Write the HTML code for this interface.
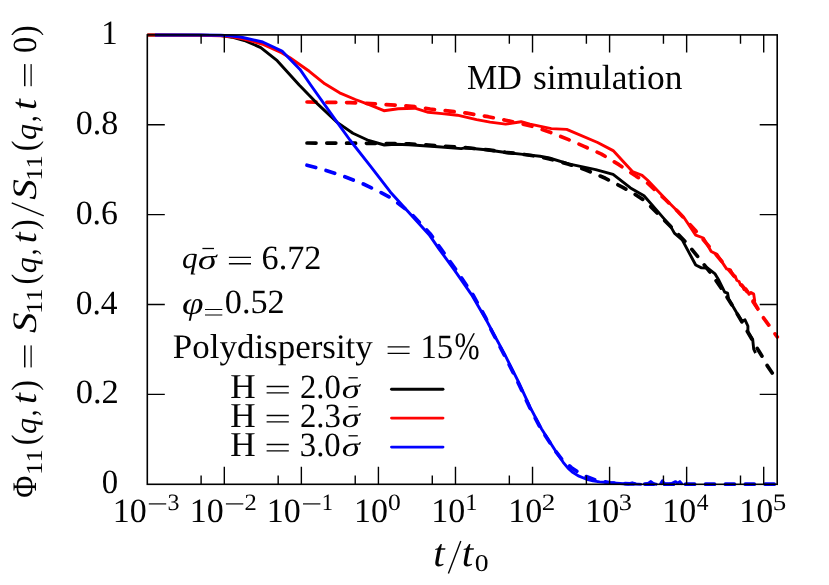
<!DOCTYPE html>
<html><head><meta charset="utf-8"><title>MD simulation</title>
<style>
html,body{margin:0;padding:0;background:#fff;}
body{width:829px;height:585px;overflow:hidden;}
svg{display:block;}
text{font-family:'Liberation Serif',serif;fill:#000;text-rendering:geometricPrecision;}
.i{font-style:italic;}
</style></head><body>
<svg width="829" height="585" viewBox="0 0 829 585">
<rect width="829" height="585" fill="#fff"/>
<!-- fitted (dashed) curves -->
<polyline points="307.0,102.0 350.0,102.6 383.9,104.4 400.0,105.4 414.8,106.7 430.2,109.0 447.6,110.9 467.0,113.2 488.2,116.7 505.6,120.2 523.0,124.1 534.6,127.0 549.3,131.9 568.6,139.6 584.1,146.4 601.5,154.1 618.9,164.7 636.3,176.3 647.4,183.0 665.3,199.5 678.3,211.9 695.7,230.8 720.8,260.2 734.3,276.2 749.8,295.0 762.4,316.3 770.1,326.9 777.3,337.0" fill="none" stroke="#f00" stroke-width="3.7" stroke-dasharray="9 10.8" stroke-linecap="round" stroke-linejoin="round"/>
<polyline points="307.0,143.0 360.0,143.2 384.0,143.5 409.0,143.9 438.0,145.7 465.0,147.6 488.2,149.8 505.6,152.3 523.0,154.3 534.6,156.0 549.3,158.9 568.6,164.2 586.0,170.0 605.4,178.3 622.8,187.3 633.9,193.6 643.5,199.8 651.3,207.1 670.6,226.4 686.0,242.4 697.6,256.4 711.2,273.8 722.8,290.2 735.0,310.0 746.0,329.0 757.6,349.0 763.4,358.5 767.2,365.6 775.0,377.0" fill="none" stroke="#000" stroke-width="3.7" stroke-dasharray="9 10.8" stroke-linecap="round" stroke-linejoin="round"/>
<polyline points="307.0,165.2 324.8,170.0 342.2,175.7 363.4,184.0 378.9,191.4 390.5,197.6 400.0,204.8 410.8,213.2 430.1,233.7 440.6,248.3 455.8,269.6 472.9,294.7 485.9,318.2 491.2,330.0 504.4,355.1 517.9,382.2 529.6,407.3 541.0,429.0 554.6,450.0 562.0,459.5 571.5,467.7 578.3,472.3 586.0,476.5 595.7,480.2 610.0,482.8 630.0,483.9 660.0,484.2 676.0,484.2" fill="none" stroke="#00f" stroke-width="3.7" stroke-dasharray="9 10.8" stroke-linecap="round" stroke-linejoin="round"/>
<path d="M685.6 484.2H694.6 M705.5 484.2H714.5 M725.4 484.2H734.4 M745.3 484.2H754.3 M765.2 484.2H774.2" fill="none" stroke="#00f" stroke-width="3.7" stroke-linecap="round"/>
<!-- simulation (solid) curves -->
<polyline points="147.3,35.0 200.0,35.1 221.0,35.6 232.0,37.2 244.3,40.5 260.8,47.6 277.2,60.7 299.2,85.0 316.7,103.1 337.2,122.4 352.9,133.3 368.6,140.5 384.3,145.0 395.0,144.3 409.0,144.7 438.0,146.7 461.2,148.6 465.0,147.8 488.2,150.0 505.6,152.5 523.0,154.4 540.0,156.3 549.3,158.0 568.6,163.8 595.7,169.6 613.1,174.4 630.5,187.9 644.0,195.7 659.0,212.9 670.6,226.4 674.4,233.1 682.2,239.9 695.7,265.0 701.5,267.9 707.4,268.0 715.1,273.9 719.0,280.6 724.7,292.2 727.6,293.2 728.6,299.0 738.3,315.4 742.1,321.2 745.0,319.8 747.9,326.0 747.9,331.8 752.7,339.5 753.7,349.2 755.6,353.0" fill="none" stroke="#000" stroke-width="2.9" stroke-linejoin="round" stroke-linecap="butt"/>
<polyline points="147.3,35.0 200.0,35.2 221.0,35.8 232.0,36.8 244.0,39.0 262.0,44.0 282.0,53.0 290.0,57.7 309.3,71.3 324.8,83.8 339.6,92.8 355.3,99.5 369.8,104.9 383.9,110.7 398.2,108.8 414.8,108.2 428.3,112.3 442.0,113.6 457.3,115.2 476.6,119.6 490.1,122.1 505.6,124.1 521.1,121.7 530.0,124.2 551.3,128.6 566.7,129.4 597.6,142.5 613.1,150.6 632.4,171.5 642.1,175.4 647.4,180.0 668.6,202.2 684.1,217.7 695.7,235.1 703.4,238.0 711.2,251.5 717.0,254.4 726.6,268.9 730.5,269.9 733.5,275.8 735.2,276.2 736.8,280.2 739.0,281.4 740.5,285.0 742.6,286.0 744.0,289.4 746.0,288.8 747.9,291.6 748.9,294.3 751.0,292.4 753.7,294.1 754.7,300.9 752.7,301.9 756.6,307.6 758.5,310.5" fill="none" stroke="#f00" stroke-width="2.9" stroke-linejoin="round" stroke-linecap="butt"/>
<polyline points="155.0,35.0 200.0,35.0 221.0,35.3 232.0,36.0 240.5,37.0 262.7,42.0 282.0,51.1 300.0,69.4 310.7,85.0 337.2,122.4 349.9,140.0 371.2,167.1 390.5,192.2 409.8,213.4 429.1,234.7 439.3,249.3 454.8,270.6 472.2,295.7 485.7,318.9 491.6,330.0 505.1,355.1 518.6,382.2 530.2,407.3 541.6,429.0 555.1,450.2 563.2,462.3 568.0,468.2 573.0,472.6 579.0,476.2 586.0,479.0 593.0,480.9 599.6,481.9 609.5,482.8 620.0,483.5 628.0,484.0 632.2,482.8 636.0,484.0 641.7,484.4" fill="none" stroke="#00f" stroke-width="2.9" stroke-linejoin="round" stroke-linecap="butt"/>
<polyline points="644.5,484.4 648.0,483.4 650.9,481.6 653.5,483.7 657.3,484.4" fill="none" stroke="#00f" stroke-width="2.9" stroke-linejoin="round" stroke-linecap="butt"/>
<polyline points="660.2,484.4 662.4,480.8 664.5,483.9 668.0,484.3 672.0,483.3 675.6,481.6 677.5,483.3 679.9,481.6 682.3,484.4" fill="none" stroke="#00f" stroke-width="2.9" stroke-linejoin="round" stroke-linecap="butt"/>
<!-- axes -->
<path d="M201.11 484.30v-8.8 M201.11 34.90v8.8 M224.31 484.30v-17.5 M224.31 34.90v17.5 M278.17 484.30v-8.8 M278.17 34.90v8.8 M301.36 484.30v-17.5 M301.36 34.90v17.5 M355.22 484.30v-8.8 M355.22 34.90v8.8 M378.42 484.30v-17.5 M378.42 34.90v17.5 M432.28 484.30v-8.8 M432.28 34.90v8.8 M455.48 484.30v-17.5 M455.48 34.90v17.5 M509.34 484.30v-8.8 M509.34 34.90v8.8 M532.53 484.30v-17.5 M532.53 34.90v17.5 M586.39 484.30v-8.8 M586.39 34.90v8.8 M609.59 484.30v-17.5 M609.59 34.90v17.5 M663.45 484.30v-8.8 M663.45 34.90v8.8 M686.64 484.30v-17.5 M686.64 34.90v17.5 M740.50 484.30v-8.8 M740.50 34.90v8.8 M763.70 484.30v-17.5 M763.70 34.90v17.5 M147.30 394.42h17.5 M777.20 394.42h-17.5 M147.30 304.54h17.5 M777.20 304.54h-17.5 M147.30 214.66h17.5 M777.20 214.66h-17.5 M147.30 124.78h17.5 M777.20 124.78h-17.5" fill="none" stroke="#000" stroke-width="1.4"/>
<rect x="147.30" y="34.90" width="629.90" height="449.40" fill="none" stroke="#000" stroke-width="1.6"/>
<g opacity="0.99">
<!-- y tick labels -->
<text transform="translate(101.15 43.90) scale(0.9656 1.0000)" font-size="34">1</text>
<text transform="translate(75.65 133.78) scale(1.0023 1.0000)" font-size="34">0.8</text>
<text transform="translate(75.66 223.66) scale(0.9967 1.0000)" font-size="34">0.6</text>
<text transform="translate(75.67 313.54) scale(0.9856 1.0000)" font-size="34">0.4</text>
<text transform="translate(75.63 403.42) scale(1.0167 1.0000)" font-size="34">0.2</text>
<text transform="translate(101.80 493.30) scale(0.9651 1.0000)" font-size="34">0</text>
<!-- x tick labels -->
<text transform="translate(112.70 522.10) scale(0.9998 1.0000)" font-size="34">10</text>
<path d="M148.8 503.90H166.2" stroke="#000" stroke-width="1.20" fill="none"/>
<text transform="translate(167.43 509.80) scale(1.0192 1.0000)" font-size="23.5">3</text>
<text transform="translate(189.76 522.10) scale(0.9998 1.0000)" font-size="34">10</text>
<path d="M225.9 503.90H243.3" stroke="#000" stroke-width="1.20" fill="none"/>
<text transform="translate(244.54 509.80) scale(1.0445 1.0000)" font-size="23.5">2</text>
<text transform="translate(266.82 522.10) scale(0.9998 1.0000)" font-size="34">10</text>
<path d="M303.0 503.90H320.4" stroke="#000" stroke-width="1.20" fill="none"/>
<text transform="translate(321.70 509.80) scale(0.9635 1.0000)" font-size="23.5">1</text>
<text transform="translate(354.07 522.10) scale(0.9998 1.0000)" font-size="34">10</text>
<text transform="translate(387.98 509.80) scale(1.0871 1.0000)" font-size="23.5">0</text>
<text transform="translate(431.13 522.10) scale(0.9998 1.0000)" font-size="34">10</text>
<text transform="translate(465.24 509.80) scale(1.0478 1.0000)" font-size="23.5">1</text>
<text transform="translate(508.19 522.10) scale(0.9998 1.0000)" font-size="34">10</text>
<text transform="translate(541.86 509.80) scale(1.1500 1.0000)" font-size="23.5">2</text>
<text transform="translate(585.24 522.10) scale(0.9998 1.0000)" font-size="34">10</text>
<text transform="translate(618.86 509.80) scale(1.1222 1.0000)" font-size="23.5">3</text>
<text transform="translate(662.30 522.10) scale(0.9998 1.0000)" font-size="34">10</text>
<text transform="translate(696.67 509.80) scale(1.0011 1.0000)" font-size="23.5">4</text>
<text transform="translate(739.35 522.10) scale(0.9998 1.0000)" font-size="34">10</text>
<text transform="translate(772.67 509.80) scale(1.1500 1.0000)" font-size="23.5">5</text>
<!-- x label -->
<text transform="translate(433.32 566.10) scale(1.1404 1.0799)" font-size="36" class="i">t</text>
<path d="M448.4 573.5L460.8 540.9" stroke="#000" stroke-width="1.4" fill="none"/>
<text transform="translate(461.82 566.10) scale(1.1404 1.0799)" font-size="36" class="i">t</text>
<text transform="translate(474.69 570.90) scale(1.1769 1.0277)" font-size="23.5">0</text>
<!-- title -->
<text transform="translate(467.08 88.80) scale(0.9719 1.0000)" font-size="35">MD</text>
<text transform="translate(532.98 88.80) scale(1.0113 1.0000)" font-size="35">simulation</text>
<!-- annotations -->
<text transform="translate(182.05 268.31) scale(0.9501 0.9224)" font-size="33" class="i">q</text>
<text transform="translate(197.85 268.60) scale(1.1609 0.8563)" font-size="33" class="i">σ</text>
<path d="M202.4 248.50H214.0" stroke="#000" stroke-width="1.30" fill="none"/>
<path d="M228.9 263.70H251.0 M228.9 257.30H251.0" stroke="#000" stroke-width="1.35" fill="none"/>
<text transform="translate(261.52 268.60) scale(1.0069 1.0000)" font-size="34">6.72</text>
<text transform="translate(182.03 313.53) scale(1.1836 0.9620)" font-size="33" class="i">φ</text>
<path d="M205.0 315.00H222.3 M205.0 309.50H222.3" stroke="#000" stroke-width="1.10" fill="none"/>
<text transform="translate(224.74 313.40) scale(1.0082 1.0000)" font-size="34">0.52</text>
<text transform="translate(172.85 358.20) scale(1.0127 1.0000)" font-size="34.5">Polydispersity</text>
<path d="M387.6 353.30H409.6 M387.6 346.90H409.6" stroke="#000" stroke-width="1.35" fill="none"/>
<text transform="translate(420.46 358.20) scale(0.9632 1.0000)" font-size="34">15</text>
<text transform="translate(454.50 359.18) scale(0.8862 1.1419)" font-size="34">%</text>
<!-- legend -->
<text transform="translate(230.25 397.80) scale(1.0094 1.0000)" font-size="34.8">H</text>
<path d="M266.6 392.90H288.8 M266.6 386.50H288.8" stroke="#000" stroke-width="1.35" fill="none"/>
<text transform="translate(299.89 397.80) scale(0.9603 1.0000)" font-size="34">2.0</text>
<text transform="translate(341.80 397.80) scale(1.1118 0.8211)" font-size="33" class="i">σ</text>
<path d="M348.5 377.80H357.8" stroke="#000" stroke-width="1.30" fill="none"/>
<path d="M391.5 389.2H443.0" stroke="#000" stroke-width="2.9" stroke-linecap="round" fill="none"/>
<text transform="translate(230.25 426.80) scale(1.0094 1.0000)" font-size="34.8">H</text>
<path d="M266.6 421.90H288.8 M266.6 415.50H288.8" stroke="#000" stroke-width="1.35" fill="none"/>
<text transform="translate(299.88 426.80) scale(0.9630 1.0000)" font-size="34">2.3</text>
<text transform="translate(341.80 426.80) scale(1.1118 0.8211)" font-size="33" class="i">σ</text>
<path d="M348.5 406.80H357.8" stroke="#000" stroke-width="1.30" fill="none"/>
<path d="M391.5 418.1H443.0" stroke="#f00" stroke-width="2.9" stroke-linecap="round" fill="none"/>
<text transform="translate(230.25 455.80) scale(1.0094 1.0000)" font-size="34.8">H</text>
<path d="M266.6 450.90H288.8 M266.6 444.50H288.8" stroke="#000" stroke-width="1.35" fill="none"/>
<text transform="translate(299.77 455.80) scale(0.9630 1.0000)" font-size="34">3.0</text>
<text transform="translate(341.80 455.80) scale(1.1118 0.8211)" font-size="33" class="i">σ</text>
<path d="M348.5 435.80H357.8" stroke="#000" stroke-width="1.30" fill="none"/>
<path d="M391.5 447.1H443.0" stroke="#00f" stroke-width="2.9" stroke-linecap="round" fill="none"/>
<!-- y label -->
<g transform="rotate(-90)">
<text transform="translate(-497.85 36.10) scale(0.8735 1.0000)" font-size="34.5">Φ</text>
<text transform="translate(-474.89 41.70) scale(1.1606 1.0000)" font-size="23">11</text>
<text transform="translate(-445.27 36.38) scale(0.9624 1.0667)" font-size="33.5">(</text>
<text transform="translate(-434.06 36.14) scale(0.9583 0.9043)" font-size="33.5" class="i">q</text>
<text transform="translate(-416.17 36.10) scale(0.7904 1.0000)" font-size="33.5">,</text>
<text transform="translate(-404.01 36.10) scale(1.0888 1.0108)" font-size="36" class="i">t</text>
<text transform="translate(-390.76 36.38) scale(0.9547 1.0667)" font-size="33.5">)</text>
<path d="M-367.4 31.10H-345.4 M-367.4 24.70H-345.4" stroke="#000" stroke-width="1.35" fill="none"/>
<text transform="translate(-333.07 36.10) scale(1.1942 1.0000)" font-size="34.5" class="i">S</text>
<text transform="translate(-314.04 41.70) scale(1.1606 1.0000)" font-size="23">11</text>
<text transform="translate(-284.42 36.38) scale(0.9624 1.0667)" font-size="33.5">(</text>
<text transform="translate(-273.21 36.14) scale(0.9583 0.9043)" font-size="33.5" class="i">q</text>
<text transform="translate(-255.32 36.10) scale(0.7904 1.0000)" font-size="33.5">,</text>
<text transform="translate(-243.16 36.10) scale(1.0888 1.0108)" font-size="36" class="i">t</text>
<text transform="translate(-229.91 36.38) scale(0.9547 1.0667)" font-size="33.5">)</text>
<path d="M-215.8 43.8L-202.9 11.8" stroke="#000" stroke-width="1.4" fill="none"/>
<text transform="translate(-199.81 36.10) scale(1.1942 1.0000)" font-size="34.5" class="i">S</text>
<text transform="translate(-180.78 41.70) scale(1.1606 1.0000)" font-size="23">11</text>
<text transform="translate(-151.16 36.38) scale(0.9624 1.0667)" font-size="33.5">(</text>
<text transform="translate(-139.94 36.14) scale(0.9583 0.9043)" font-size="33.5" class="i">q</text>
<text transform="translate(-122.06 36.10) scale(0.7904 1.0000)" font-size="33.5">,</text>
<text transform="translate(-109.90 36.10) scale(1.0888 1.0108)" font-size="36" class="i">t</text>
<path d="M-86.2 31.10H-64.1 M-86.2 24.70H-64.1" stroke="#000" stroke-width="1.35" fill="none"/>
<text transform="translate(-52.97 36.10) scale(0.9583 1.0000)" font-size="34">0</text>
<text transform="translate(-35.96 36.38) scale(0.9547 1.0667)" font-size="33.5">)</text>
</g>
</g>
</svg>
</body></html>
